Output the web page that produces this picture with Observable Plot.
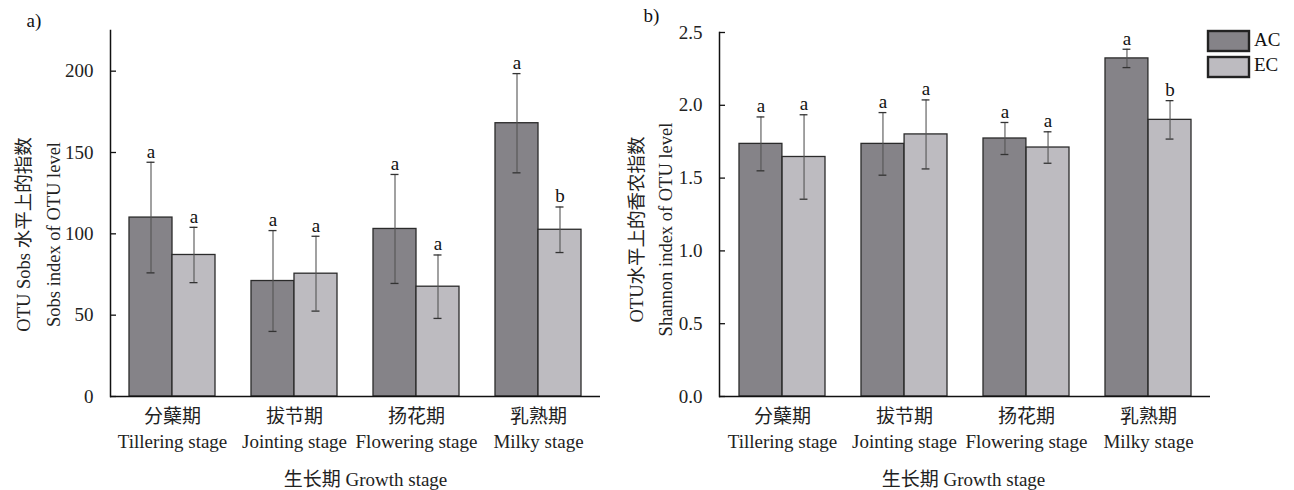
<!DOCTYPE html>
<html><head><meta charset="utf-8">
<script src="https://cdn.jsdelivr.net/npm/d3@7"></script>
<script src="https://cdn.jsdelivr.net/npm/@observablehq/plot@0.6"></script>
<style>
body{margin:0;background:#fff;}
#fig{position:relative;width:1294px;height:490px;overflow:hidden;background:#fff;}
#pa{position:absolute;left:0;top:0}
#pb{position:absolute;left:615px;top:0}
#leg{position:absolute;left:1208px;top:30px}
#leg svg rect{stroke:#222;stroke-width:2.4px}
#leg [class*="-swatch"]{padding-bottom:2.7px !important;margin:0 !important;line-height:20px}
#leg [class*="-swatch"] > svg{margin-right:5px !important}
</style></head><body>
<div id="fig"><div id="pa"></div><div id="pb"></div><div id="leg"></div></div>
<script>
const stagesZh = ["分蘖期", "拔节期", "扬花期", "乳熟期"];
const stagesEn = ["Tillering stage", "Jointing stage", "Flowering stage", "Milky stage"];
const groups = ["AC", "EC"];
const colors = ["#858388", "#bdbbc0"];

const sobsAC = [110, 71, 103, 168];
const sobsACerr = [34, 31, 33.5, 30.5];
const sobsACsig = ["a", "a", "a", "a"];
const sobsEC = [87, 75.5, 67.5, 102.5];
const sobsECerr = [17, 23, 19.5, 14];
const sobsECsig = ["a", "a", "a", "b"];

const shanAC = [1.735, 1.735, 1.772, 2.322];
const shanACerr = [0.185, 0.215, 0.11, 0.063];
const shanACsig = ["a", "a", "a", "a"];
const shanEC = [1.645, 1.80, 1.71, 1.90];
const shanECerr = [0.29, 0.237, 0.108, 0.132];
const shanECsig = ["a", "a", "a", "b"];

const sobsTicks = [0, 50, 100, 150, 200];
const shanTicks = [0, 0.5, 1.0, 1.5, 2.0, 2.5];

const FONT = '"Liberation Serif", "Noto Sans CJK SC", serif';

function rows(group, vals, errs, sigs) {
  return stagesZh.map((s, i) => ({stage: s, group, value: vals[i], err: errs[i], sig: sigs[i]}));
}

function panel(o) {
  const H = 490;
  const pi = 0.298, po = 0.149;
  const W = o.width - o.ml - o.mr;
  const step = W / (stagesZh.length - pi + 2 * po);
  const bw = step * (1 - pi);
  const half = bw / 2, q = bw / 4, cap = 4;
  const AC = o.ac, EC = o.ec;
  const lo = d => d.value - d.err, hi = d => d.value + d.err;
  return Plot.plot({
    width: o.width, height: H,
    marginLeft: o.ml, marginRight: o.mr, marginTop: o.mt, marginBottom: o.mb,
    style: {fontFamily: FONT, fontSize: "18px", color: "#111", background: "transparent", overflow: "visible"},
    x: {domain: stagesZh, paddingInner: pi, paddingOuter: po, label: null},
    y: {domain: o.yDomain, label: null},
    color: {domain: groups, range: colors},
    marks: [
      Plot.barY(AC, {x: "stage", y: "value", fill: "group", stroke: "#2b2b2b", strokeWidth: 1.3, insetRight: half}),
      Plot.barY(EC, {x: "stage", y: "value", fill: "group", stroke: "#2b2b2b", strokeWidth: 1.3, insetLeft: half}),
      Plot.ruleX(AC, {x: "stage", y1: lo, y2: hi, dx: -q, stroke: "#555", strokeWidth: 1.1}),
      Plot.ruleX(EC, {x: "stage", y1: lo, y2: hi, dx: q, stroke: "#555", strokeWidth: 1.1}),
      Plot.tickY(AC, {x: "stage", y: hi, insetLeft: q - cap, insetRight: 3 * q - cap, stroke: "#333", strokeWidth: 1.3}),
      Plot.tickY(AC, {x: "stage", y: lo, insetLeft: q - cap, insetRight: 3 * q - cap, stroke: "#333", strokeWidth: 1.3}),
      Plot.tickY(EC, {x: "stage", y: hi, insetLeft: 3 * q - cap, insetRight: q - cap, stroke: "#333", strokeWidth: 1.3}),
      Plot.tickY(EC, {x: "stage", y: lo, insetLeft: 3 * q - cap, insetRight: q - cap, stroke: "#333", strokeWidth: 1.3}),
      Plot.text(AC, {x: "stage", y: hi, text: "sig", dx: -q, dy: -4.5, lineAnchor: "bottom", fontSize: 19, fill: "#111"}),
      Plot.text(EC, {x: "stage", y: hi, text: "sig", dx: q, dy: -4.5, lineAnchor: "bottom", fontSize: 19, fill: "#111"}),
      Plot.tickY(o.ticks, {y: d => d, insetRight: W - 6, stroke: "#111", strokeWidth: 1.3}),
      Plot.frame({anchor: "left", stroke: "#111", strokeWidth: 1.5}),
      Plot.axisY({ticks: o.ticks, tickFormat: o.fmt, tickSize: 0, tickPadding: 17, label: null, fontSize: 19, fill: "#222"}),
      Plot.axisX({tickSize: 0, tickPadding: 9, label: null, lineHeight: 1.3, fontSize: 19, fill: "#222",
        tickFormat: d => d + "\n" + stagesEn[stagesZh.indexOf(d)]}),
      Plot.ruleY([0], {stroke: "#111", strokeWidth: 1.5}),
      Plot.text([o.ylabel], {text: d => d, frameAnchor: "left", textAnchor: "middle", lineAnchor: "middle", rotate: -90, dx: o.ylabDx, dy: o.ylabDy, lineHeight: 1.6, fontSize: 18.5, fill: "#222"}),
      Plot.text([o.tag], {text: d => d, frameAnchor: "top-left", textAnchor: "start", lineAnchor: "middle", dx: o.tagDx, dy: o.tagDy, fontSize: 19, fill: "#111"}),
      Plot.text(["生长期 Growth stage"], {text: d => d, frameAnchor: "bottom", lineAnchor: "bottom", dx: o.xlabDx, dy: 89, fontSize: 19, fill: "#222"})
    ]
  });
}

document.getElementById("pa").append(panel({
  width: 615, ml: 110, mr: 15, mt: 30, mb: 94,
  yDomain: [0, 225], ticks: sobsTicks, fmt: d3.format("d"),
  ac: rows("AC", sobsAC, sobsACerr, sobsACsig), ec: rows("EC", sobsEC, sobsECerr, sobsECsig),
  ylabel: "OTU Sobs 水平上的指数\nSobs index of OTU level", ylabDx: -75, ylabDy: 21,
  tag: "a)", tagDx: -84, tagDy: -10, xlabDx: 10
}));

document.getElementById("pb").append(panel({
  width: 679, ml: 104, mr: 84, mt: 32, mb: 94,
  yDomain: [0, 2.5], ticks: shanTicks, fmt: d3.format(".1f"),
  ac: rows("AC", shanAC, shanACerr, shanACsig), ec: rows("EC", shanEC, shanECerr, shanECsig),
  ylabel: "OTU水平上的香农指数\nShannon index of OTU level", ylabDx: -71.5, ylabDy: 15,
  tag: "b)", tagDx: -76, tagDy: -17, xlabDx: -1.5
}));

document.getElementById("leg").append(Plot.legend({
  legend: "swatches",
  color: {type: "ordinal", domain: groups, range: colors},
  columns: 1, swatchWidth: 41, swatchHeight: 20,
  style: {fontFamily: FONT, fontSize: "19px", color: "#111"}
}));
</script>
</body></html>
